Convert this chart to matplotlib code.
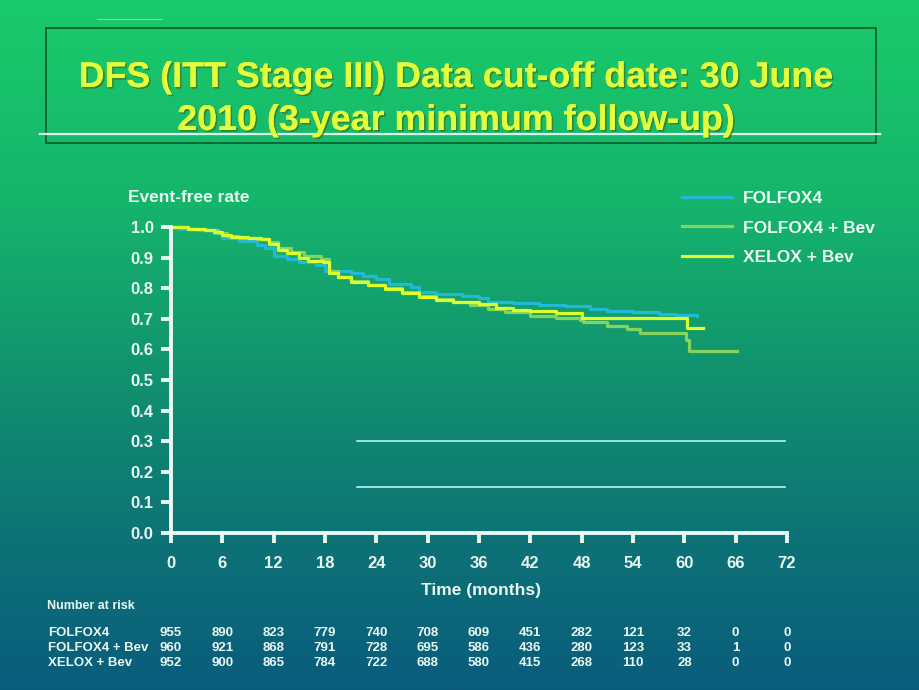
import numpy as np
import matplotlib
matplotlib.use("Agg")
import matplotlib.pyplot as plt
import matplotlib.patheffects as pe
from matplotlib.colors import LinearSegmentedColormap
from matplotlib.lines import Line2D
from matplotlib.patches import Rectangle
from matplotlib.transforms import blended_transform_factory

plt.rcParams["font.family"] = ["Liberation Sans", "DejaVu Sans"]

# --- data ---
arms = ["FOLFOX4", "FOLFOX4 + Bev", "XELOX + Bev"]

folfox_t = [0, 1, 3, 5, 6, 8, 10, 11, 12, 13.5, 15, 17, 18, 21, 22.5, 24, 25.5,
            28, 29, 31, 34, 36, 37, 40, 43, 46, 49, 51, 54, 57, 59, 61.5]
folfox_s = [1.0, 0.995, 0.99, 0.98, 0.963, 0.953, 0.94, 0.93, 0.905, 0.897, 0.887,
            0.875, 0.855, 0.85, 0.84, 0.83, 0.815, 0.805, 0.788, 0.782, 0.775, 0.768,
            0.755, 0.75, 0.745, 0.742, 0.733, 0.727, 0.722, 0.717, 0.712, 0.708]

folfox_bev_t = [0, 2, 4, 5.5, 6.5, 8, 10, 11.5, 12.5, 14, 15.5, 17.5, 18.5, 19.5, 21,
                23, 25, 27, 29, 31, 33, 35, 37, 39, 42, 45, 47.8, 48.1, 51, 53.3,
                54.8, 60.2, 60.5, 66.2]
folfox_bev_s = [1.0, 0.995, 0.99, 0.98, 0.97, 0.965, 0.962, 0.95, 0.93, 0.918, 0.905,
                0.895, 0.855, 0.838, 0.825, 0.812, 0.8, 0.788, 0.775, 0.765, 0.755,
                0.745, 0.732, 0.722, 0.708, 0.702, 0.696, 0.688, 0.675, 0.668, 0.655,
                0.63, 0.595, 0.595]

xelox_t = [0, 2, 4, 5, 6, 7, 9, 10.5, 11.5, 12.5, 13.5, 15, 16, 17.8, 18.5, 19.5, 21,
           23, 25, 27, 29, 31, 33, 36, 38, 40, 42, 45, 48, 60.3, 62.2]
xelox_s = [1.0, 0.995, 0.99, 0.985, 0.975, 0.967, 0.965, 0.96, 0.945, 0.925, 0.915,
           0.9, 0.89, 0.885, 0.85, 0.835, 0.82, 0.81, 0.797, 0.785, 0.772, 0.762,
           0.755, 0.748, 0.735, 0.73, 0.725, 0.72, 0.703, 0.67, 0.67]

x_ticks = [0, 6, 12, 18, 24, 30, 36, 42, 48, 54, 60, 66, 72]
y_ticks = [0.0, 0.1, 0.2, 0.3, 0.4, 0.5, 0.6, 0.7, 0.8, 0.9, 1.0]

at_risk = {
    "FOLFOX4": [955, 890, 823, 779, 740, 708, 609, 451, 282, 121, 32, 0, 0],
    "FOLFOX4 + Bev": [960, 921, 868, 791, 728, 695, 586, 436, 280, 123, 33, 1, 0],
    "XELOX + Bev": [952, 900, 865, 784, 722, 688, 580, 415, 268, 110, 28, 0, 0],
}

title_1 = "DFS (ITT Stage III) Data cut-off date: 30 June"
title_2 = "2010 (3-year minimum follow-up)"

colors = {"FOLFOX4": "#22B8D6", "FOLFOX4 + Bev": "#86D35C", "XELOX + Bev": "#DDFF2A"}
WHITE = "#EAF8F2"
W, H = 920, 690


def fx(px):
    return px / W


def fy(py):
    return 1 - py / H


fig = plt.figure(figsize=(9.2, 6.9), dpi=100)

# slide background gradient
bg = fig.add_axes([0, 0, 1, 1], zorder=-10)
cmap = LinearSegmentedColormap.from_list(
    "slide", [(0.0, "#0A5C7C"), (0.23, "#0D7476"), (0.45, "#11916F"),
              (0.7, "#15B46C"), (1.0, "#1ACA6A")])
bg.imshow(np.linspace(0, 1, 256).reshape(-1, 1)[::-1], aspect="auto", cmap=cmap,
          extent=[0, 1, 0, 1])
bg.axis("off")

# title box and rules
fig.patches.append(Rectangle((fx(46), fy(143)), fx(876) - fx(46), fy(28) - fy(143),
                             transform=fig.transFigure, fill=False,
                             edgecolor="#0E5A2C", linewidth=1.2))
fig.lines.append(Line2D([fx(40), fx(880)], [fy(134), fy(134)], transform=fig.transFigure,
                        color="#DDF3EC", linewidth=1.6))
fig.lines.append(Line2D([fx(97), fx(162)], [fy(19), fy(19)], transform=fig.transFigure,
                        color="#6EE2A8", linewidth=0.8))

shadow = [pe.withSimplePatchShadow(offset=(1.2, -1.2), shadow_rgbFace="#3F6B22", alpha=0.7),
          pe.Normal()]
for txt, ypx in [(title_1, 87), (title_2, 130)]:
    fig.text(fx(456), fy(ypx), txt, ha="center", va="baseline", fontsize=25.8,
             fontweight="bold", color="#E2FF3C", path_effects=shadow)

# main axes
ax = fig.add_axes([fx(171), fy(533), fx(787) - fx(171), fy(227) - fy(533)])
ax.set_facecolor("none")

ax.plot(folfox_t, folfox_s, drawstyle="steps-post", color=colors["FOLFOX4"],
        linewidth=2.3, label=arms[0], clip_on=False)
ax.plot(folfox_bev_t, folfox_bev_s, drawstyle="steps-post", color=colors["FOLFOX4 + Bev"],
        linewidth=2.3, label=arms[1], clip_on=False)
ax.plot(xelox_t, xelox_s, drawstyle="steps-post", color=colors["XELOX + Bev"],
        linewidth=2.3, label=arms[2], clip_on=False)

ax.set_xlim(0, 72)
ax.set_ylim(0, 1)
ax.set_xticks(x_ticks)
ax.set_yticks(y_ticks)
ax.set_xticklabels([str(v) for v in x_ticks])
ax.set_yticklabels([f"{v:.1f}" for v in y_ticks])
for side in ["top", "right"]:
    ax.spines[side].set_visible(False)
for side in ["left", "bottom"]:
    ax.spines[side].set_color(WHITE)
    ax.spines[side].set_linewidth(2.8)
ax.tick_params(direction="out", length=7.5, width=2.8, color=WHITE, labelcolor=WHITE,
               labelsize=12)
ax.tick_params(axis="x", pad=9)
ax.tick_params(axis="y", pad=5)
for lab in ax.get_xticklabels() + ax.get_yticklabels():
    lab.set_fontweight("bold")

fig.text(fx(128), fy(198), "Event-free rate", ha="left", va="center", fontsize=12.5,
         fontweight="bold", color=WHITE)
fig.text(fx(481), fy(591), "Time (months)", ha="center", va="center", fontsize=12.5,
         fontweight="bold", color=WHITE)

# thin light rules inside the plot area
for ypx in [441, 487]:
    fig.lines.append(Line2D([fx(357), fx(785)], [fy(ypx), fy(ypx)],
                            transform=fig.transFigure, color="#B4F7EC", linewidth=1.2))

leg = ax.legend(loc="upper left", bbox_to_anchor=(fx(682), fy(191)),
                bbox_transform=fig.transFigure, frameon=False, handlelength=2.9,
                handletextpad=0.6, labelspacing=0.82, borderpad=0, borderaxespad=0,
                prop={"size": 12.5, "weight": "bold"}, labelcolor=WHITE)
for line in leg.get_lines():
    line.set_linewidth(2.3)

# number at risk table
fig.text(fx(47), fy(606), "Number at risk", ha="left", va="center", fontsize=9,
         fontweight="bold", color=WHITE)
blend = blended_transform_factory(ax.transData, fig.transFigure)
for ypx, arm in zip([633, 648, 663], arms):
    fig.text(fx(48), fy(ypx), arm, ha="left", va="center", fontsize=9.5,
             fontweight="bold", color=WHITE)
    for t, n in zip(x_ticks, at_risk[arm]):
        ax.text(t, fy(ypx), str(n), transform=blend, ha="center", va="center",
                fontsize=9.5, fontweight="bold", color=WHITE, clip_on=False)

fig.savefig("out.png", dpi=100)
